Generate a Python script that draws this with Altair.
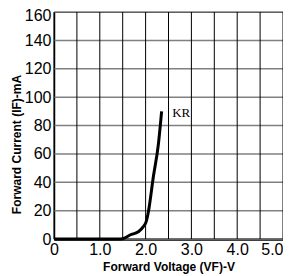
import altair as alt
import pandas as pd

voltage = [0.0, 1.45, 1.55, 1.66, 1.84, 1.95, 2.02, 2.06, 2.17, 2.28, 2.35]
current = [0.0, 0.0, 0.8, 2.8, 5.1, 8.7, 13.0, 19.0, 44.0, 67.0, 90.0]
label_text = ["KR"]
label_v = [2.58]
label_i = [89]
x_grid = [0, 0.5, 1, 1.5, 2, 2.5, 3, 3.5, 4, 4.5, 5]
x_labels = [0, 1, 2, 3, 4, 5]
y_ticks = [0, 20, 40, 60, 80, 100, 120, 140, 160]

curve_df = pd.DataFrame({"V": voltage, "I": current})
lab_df = pd.DataFrame({"t": label_text, "V": label_v, "I": label_i})
xg_df = pd.DataFrame({"V": x_grid})
yg_df = pd.DataFrame({"I": y_ticks})

FONT = "Liberation Sans, Arial, sans-serif"

x_scale = alt.Scale(domain=[0, 5], nice=False, zero=False)
y_scale = alt.Scale(domain=[0, 160], nice=False)

x_axis = alt.Axis(
    values=x_labels,
    labelExpr="datum.value == 0 ? '0' : format(datum.value, '.1f')",
    grid=False, ticks=False, domain=True, domainColor="#000000", domainWidth=2.5,
    labelFont=FONT, labelFontSize=16, labelColor="#000000", labelPadding=2,
    labelAlign={"condition": {"test": "datum.value == 5", "value": "right"}, "value": "center"},
    labelFlush=False, labelOverlap=False, labelBound=False,
    title="Forward Voltage (VF)-V", titleFont=FONT, titleFontSize=12,
    titleFontWeight="bold", titleColor="#000000",
    titleBaseline="alphabetic", titleY=31,
)
y_axis = alt.Axis(
    values=y_ticks,
    grid=False, ticks=False, domain=True, domainColor="#000000", domainWidth=1.5,
    labelFont=FONT, labelFontSize=16, labelColor="#000000", labelPadding=3,
    labelOffset={"condition": {"test": "datum.value == 160", "value": 3}, "value": 0},
    labelFlush=False, labelOverlap=False, labelBound=False,
    title="Forward Current (IF)-mA", titleFont=FONT, titleFontSize=12,
    titleFontWeight="bold", titleColor="#000000",
    titleBaseline="alphabetic", titleX=-34, titleY=132,
)

xgrid = alt.Chart(xg_df).mark_rule(color="#000000", strokeWidth=1).encode(
    x=alt.X("V:Q", scale=x_scale, axis=x_axis),
    y=alt.value(0),
    y2=alt.value(227),
)
ygrid = alt.Chart(yg_df).mark_rule(color="#808080", strokeWidth=1.5).encode(
    y=alt.Y("I:Q", scale=y_scale, axis=y_axis),
    x=alt.value(0),
    x2=alt.value(229),
)

curve = alt.Chart(curve_df).mark_line(
    color="#000000", strokeWidth=3, interpolate="monotone"
).encode(
    x=alt.X("V:Q", scale=x_scale, axis=x_axis),
    y=alt.Y("I:Q", scale=y_scale, axis=y_axis),
)

label = alt.Chart(lab_df).mark_text(
    font="Liberation Serif, Times New Roman, serif", fontSize=13,
    align="left", baseline="middle", color="#000000",
).encode(
    x=alt.X("V:Q", scale=x_scale, axis=x_axis),
    y=alt.Y("I:Q", scale=y_scale, axis=y_axis),
    text="t:N",
)

chart = alt.layer(ygrid, xgrid, curve, label).properties(
    width=229, height=227, background="#ffffff",
    autosize=alt.AutoSizeParams(type="none"),
    padding={"left": 46, "top": 4, "right": 0, "bottom": 37},
).configure_view(
    stroke="#000000", strokeWidth=1
)

chart.save("out.html", embed_options={"renderer": "svg", "actions": False})
